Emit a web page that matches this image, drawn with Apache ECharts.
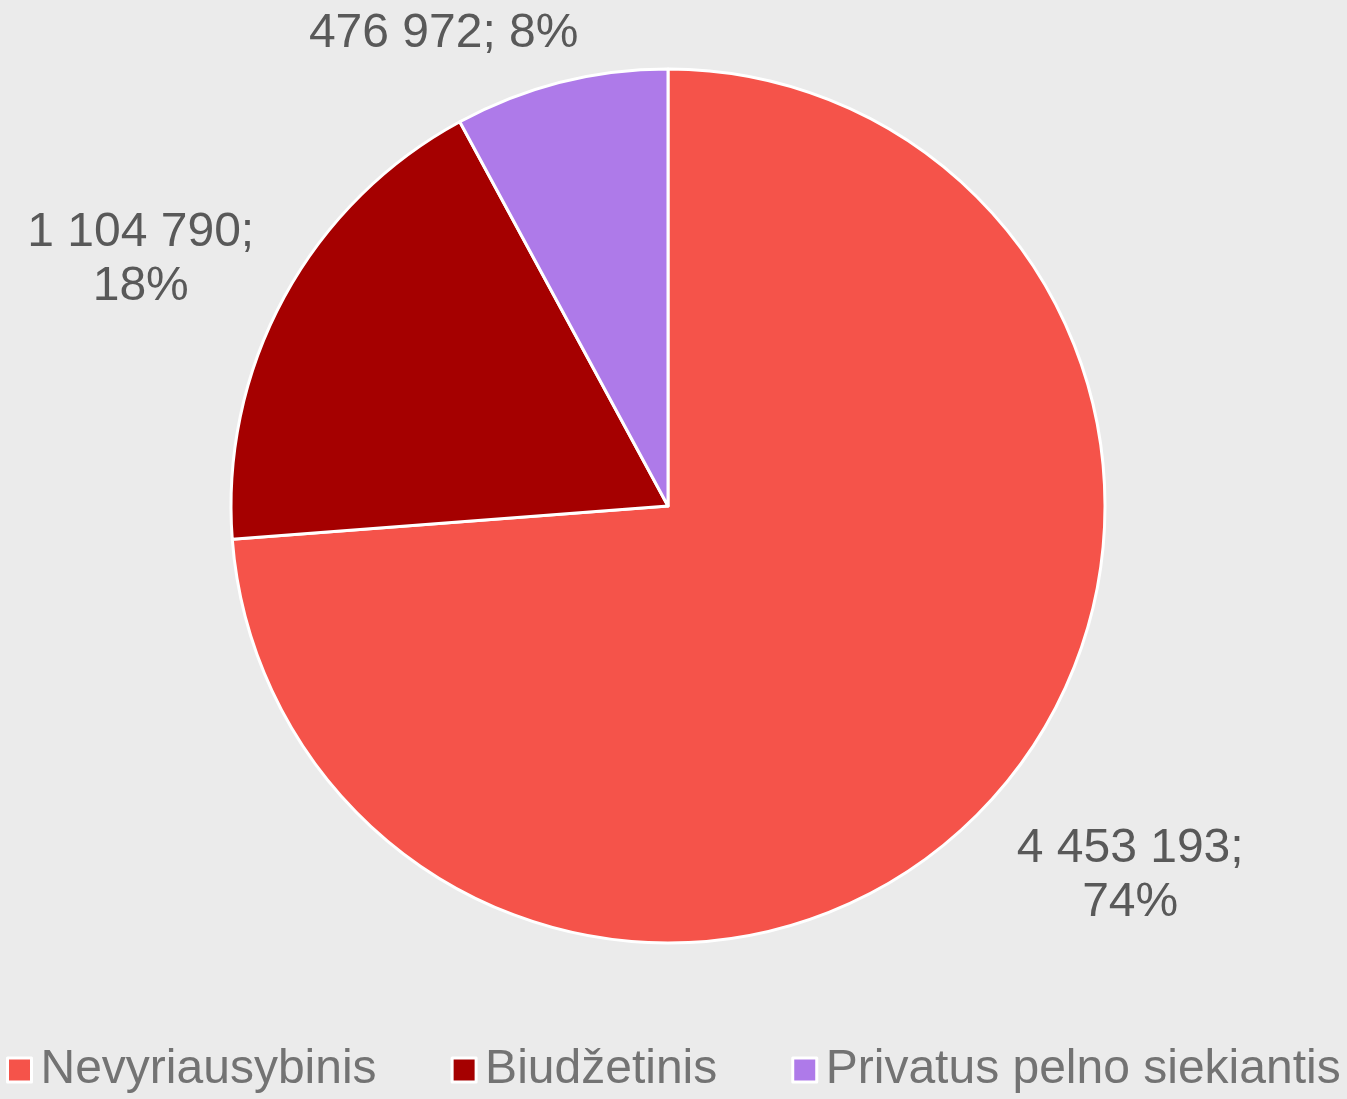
<!DOCTYPE html>
<html>
<head>
<meta charset="utf-8">
<script src="https://cdn.jsdelivr.net/npm/echarts@6/dist/echarts.min.js"></script>
<style>
  html, body { margin: 0; padding: 0; background: #ebebeb; }
  #chartPieBox { width: 1347px; height: 1099px; }
</style>
</head>
<body>
<div id="chartPieBox"></div>
<script>
// duomenys
var categories = ["Nevyriausybinis", "Biudžetinis", "Privatus pelno siekiantis"];
var values = [4453193, 1104790, 476972];
var colors = ["#f5534a", "#a50000", "#ae7ae9"];
// etikečių poslinkiai (dx, dy)
var labelShift = [[122, 59], [-121, -28], [-107, -29]];

function fmtNum(v) {
  return String(v).replace(/\B(?=(\d{3})+(?!\d))/g, " ");
}

var chart = echarts.init(document.getElementById("chartPieBox"));

var option = {
  backgroundColor: "#ebebeb",
  animation: false,
  color: colors,
  legend: {
    top: 1046,
    left: 6,
    width: 1341,
    padding: 0,
    itemWidth: 24,
    itemHeight: 24,
    itemGap: 74,
    icon: "rect",
    itemStyle: { borderColor: "#fff", borderWidth: 3 },
    textStyle: {
      fontFamily: "Liberation Sans",
      fontSize: 48,
      color: "#737373",
      padding: [0, 0, 0, 4]
    },
    data: categories
  },
  series: [
    {
      type: "pie",
      center: [668, 506],
      radius: 437,
      startAngle: 90,
      clockwise: true,
      itemStyle: { borderColor: "#fff", borderWidth: 3 },
      label: {
        show: true,
        position: "outside",
        fontFamily: "Liberation Sans",
        fontSize: 48,
        color: "#595959",
        lineHeight: 54,
        formatter: function (p) {
          var pct = Math.round(p.percent) + "%";
          if (p.dataIndex === 2) return fmtNum(p.value) + "; " + pct;
          return fmtNum(p.value) + ";\n" + pct;
        }
      },
      labelLine: { show: false, length: 20, length2: 0 },
      labelLayout: function (p) {
        return {
          align: "center",
          dx: labelShift[p.dataIndex][0],
          dy: labelShift[p.dataIndex][1]
        };
      },
      data: categories.map(function (c, i) {
        return { name: c, value: values[i] };
      })
    }
  ]
};

chart.setOption(option);
</script>
</body>
</html>
